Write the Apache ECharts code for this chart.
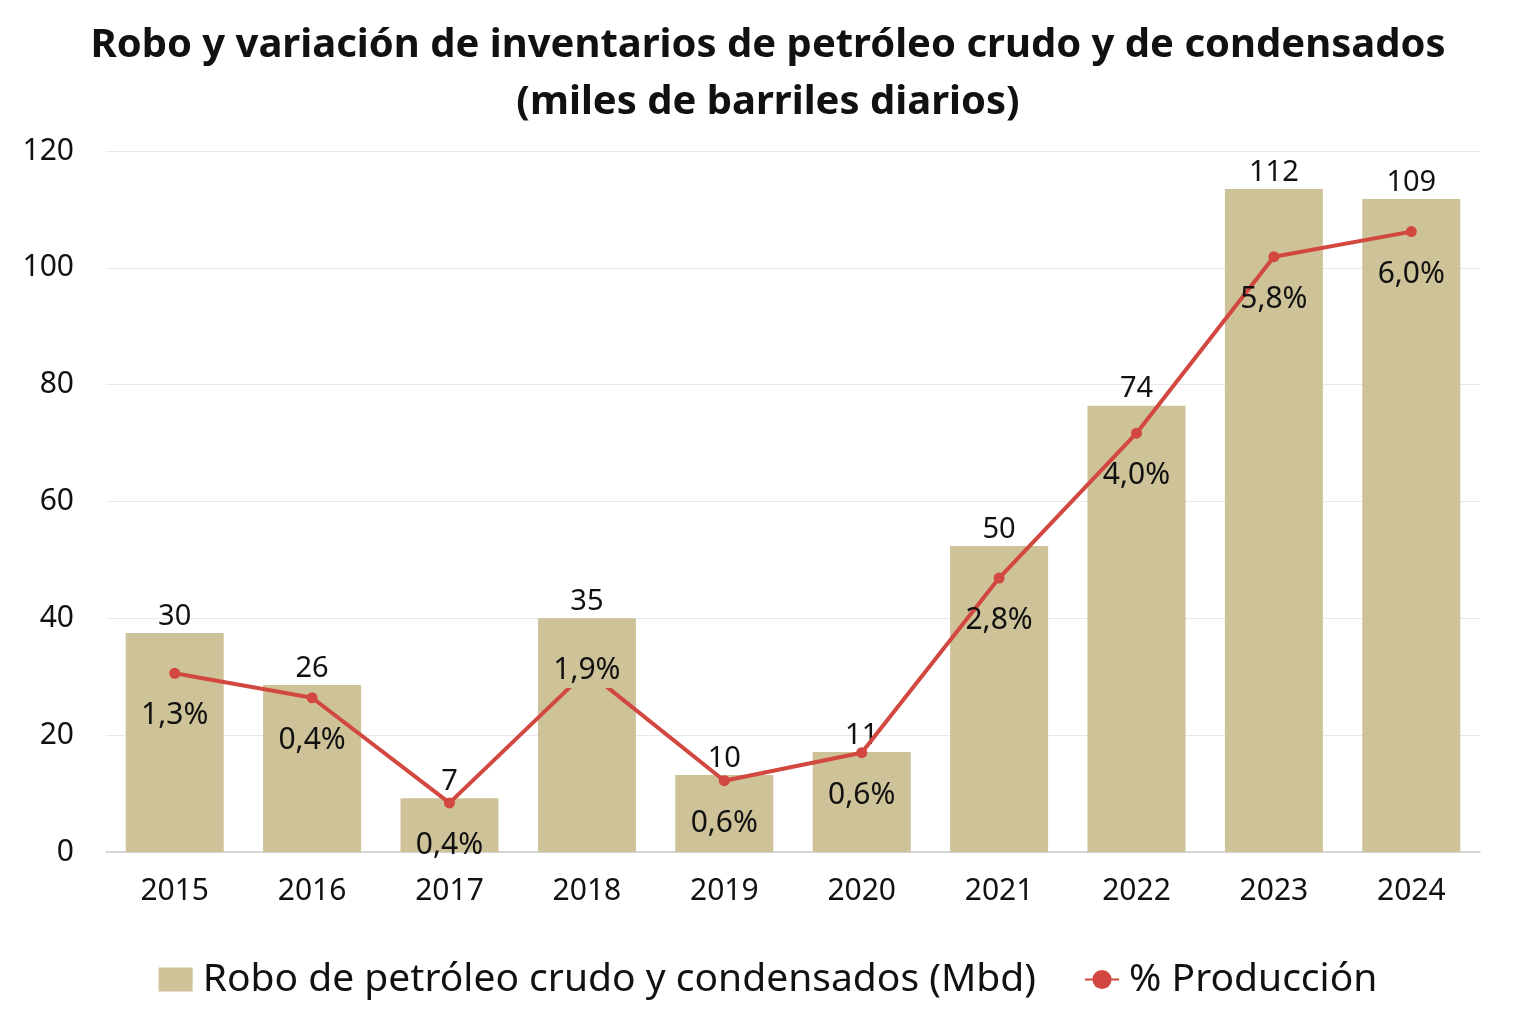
<!DOCTYPE html>
<html><head><meta charset="utf-8">
<script src="https://cdn.jsdelivr.net/npm/echarts@6/dist/echarts.min.js"></script>
<style>html,body{margin:0;padding:0;background:#fff}#c{width:1536px;height:1024px}</style>
</head><body><div id="c"></div>
<script>
const years = ['2015','2016','2017','2018','2019','2020','2021','2022','2023','2024'];
const barHeights = [37.5, 28.6, 9.2, 40, 13.2, 17.1, 52.4, 76.4, 113.5, 111.8];
const barLabels = ['30','26','7','35','10','11','50','74','112','109'];
const lineValues = [30.6, 26.4, 8.4, 31, 12.2, 17, 46.9, 71.7, 101.9, 106.2];
const pctLabels = ['1,3%','0,4%','0,4%','1,9%','0,6%','0,6%','2,8%','4,0%','5,8%','6,0%'];
const yTicks = [0, 20, 40, 60, 80, 100, 120];

const FONT = 'Noto Sans';
const BAR = '#cdc298';
const RED = '#d2473f';

const chart = echarts.init(document.getElementById('c'));
chart.setOption({
  backgroundColor: '#fff',
  textStyle: { fontFamily: FONT },
  title: {
    text: 'Robo y variación de inventarios de petróleo crudo y de condensados\n(miles de barriles diarios)',
    left: 'center', top: 12,
    textStyle: { fontFamily: FONT, fontSize: 40, fontWeight: 'bold', color: '#111', lineHeight: 57 }
  },
  legend: {
    bottom: 20, left: 'center', itemGap: 48, itemWidth: 34, itemHeight: 24,
    textStyle: { fontFamily: FONT, fontSize: 39, color: '#111', padding: [0, 0, 0, 5] },
    data: [
      { name: 'Robo de petróleo crudo y condensados (Mbd)', icon: 'rect' },
      { name: '% Producción' }
    ]
  },
  grid: { left: 106, right: 56, top: 151, bottom: 172 },
  xAxis: {
    type: 'category', data: years,
    axisTick: { show: false },
    axisLine: { lineStyle: { color: '#cccccc', width: 1.5 } },
    axisLabel: { fontFamily: FONT, fontSize: 30, color: '#111', margin: 24 }
  },
  yAxis: {
    type: 'value', min: yTicks[0], max: yTicks[yTicks.length - 1], interval: 20,
    axisLine: { show: false }, axisTick: { show: false },
    splitLine: { lineStyle: { color: '#e8e8e8', width: 1 } },
    axisLabel: { fontFamily: FONT, fontSize: 30, color: '#111', margin: 32 }
  },
  series: [
    {
      name: 'Robo de petróleo crudo y condensados (Mbd)',
      type: 'bar', barWidth: 98, itemStyle: { color: BAR },
      data: barHeights,
      label: {
        show: true, position: 'top', distance: 2,
        fontFamily: FONT, fontSize: 29, color: '#111',
        formatter: p => barLabels[p.dataIndex]
      },
      z: 1
    },
    {
      name: '% Producción',
      type: 'line', data: lineValues.map((v, i) => i === 3 ? {
        value: v,
        label: { position: 'inside', backgroundColor: BAR, padding: [2, 4], distance: 0 }
      } : v),
      symbol: 'circle', symbolSize: 11,
      lineStyle: { color: RED, width: 4 },
      itemStyle: { color: RED },
      label: {
        show: true, position: 'bottom', distance: 22,
        fontFamily: FONT, fontSize: 30, color: '#111',
        formatter: p => pctLabels[p.dataIndex]
      },
      z: 3
    }
  ]
});
</script></body></html>
